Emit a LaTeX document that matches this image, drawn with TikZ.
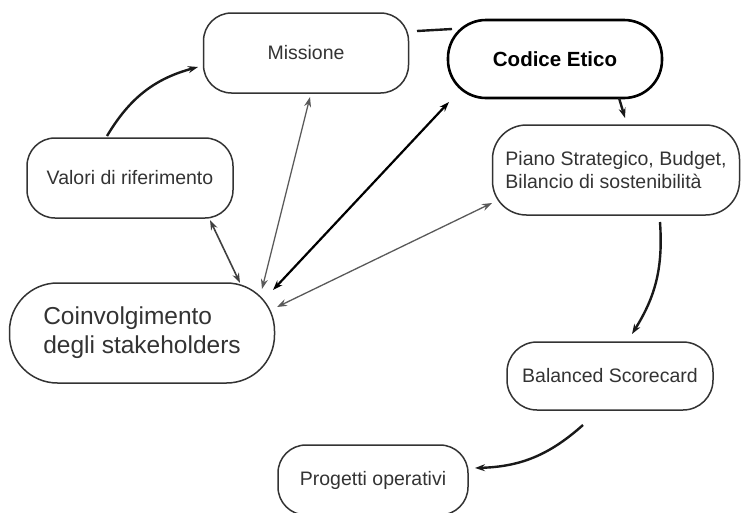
\documentclass[tikz,border=0pt]{standalone}
\usepackage{fontspec}
\setmainfont{Liberation Sans}
\usetikzlibrary{arrows.meta}
\begin{document}
\begin{tikzpicture}[x=1pt,y=1pt,
  >={Stealth[length=10pt,width=7pt]},
  box/.style={draw=black!80, line width=1.5pt, text=black!80, inner sep=0pt,
    font=\fontsize{19.5}{23}\selectfont, align=center},
  conn/.style={line width=1.6pt, draw=black!75},
  light/.style={line width=1.3pt, draw=black!65},
  heavy/.style={line width=2.2pt, draw=black},
  curvy/.style={line width=2.4pt, draw=black!90}]
\useasboundingbox (0,0) rectangle (742,-512);
\clip (0,0) rectangle (742,-512);
% nodes
\node[box, rounded corners=28pt, minimum width=205pt, minimum height=80pt] (mis) at (306,-53) {Missione};
\node[box, draw=black, text=black, line width=2.6pt, rounded corners=38pt, minimum width=214pt, minimum height=78pt,
  font=\fontsize{20.5}{24}\selectfont\bfseries] (cod) at (555,-59) {Codice Etico};
\node[box, rounded corners=28pt, minimum width=206pt, minimum height=80pt] (val) at (130,-178) {Valori di riferimento};
\node[box, rounded corners=48pt, minimum width=265pt, minimum height=100pt, align=left,
  font=\fontsize{24.5}{29}\selectfont] (coin) at (142,-333) {Coinvolgimento\\degli stakeholders};
\node[box, rounded corners=34pt, minimum width=247pt, minimum height=90pt, align=left] (pia) at (616,-170) {Piano Strategico, Budget,\\Bilancio di sostenibilità};
\node[box, rounded corners=30pt, minimum width=206pt, minimum height=68pt] (bal) at (610,-376) {Balanced Scorecard};
\node[box, rounded corners=28pt, minimum width=190pt, minimum height=70pt] (pro) at (373,-480) {Progetti operativi};
% connectors
\draw[curvy,->] ([shift={(-23,42)}]val.center) to[bend left=22] ([shift={(-108,-14)}]mis.center);
\draw[conn,<->] ([shift={(80,-42)}]val.center) -- ([shift={(98,50)}]coin.center);
\draw[light,<->] ([shift={(4,-44)}]mis.center) -- ([shift={(120,44)}]coin.center);
\draw[heavy,<->] ([shift={(-106,-43)}]cod.center) -- ([shift={(131,43)}]coin.center);
\draw[light,<->] ([shift={(-124,-33)}]pia.center) -- ([shift={(135,26)}]coin.center);
\draw[curvy] ([shift={(111,22)}]mis.center) -- ([shift={(-103,30)}]cod.center);
\draw[curvy,->] ([shift={(64,-39)}]cod.center) -- ([shift={(9,52)}]pia.center);
\draw[curvy,->] ([shift={(44,-52)}]pia.center) to[bend left=18] ([shift={(22,42)}]bal.center);
\draw[curvy,->] ([shift={(-27,-49)}]bal.center) to[bend left=20] ([shift={(102,12)}]pro.center);
\end{tikzpicture}
\end{document}
